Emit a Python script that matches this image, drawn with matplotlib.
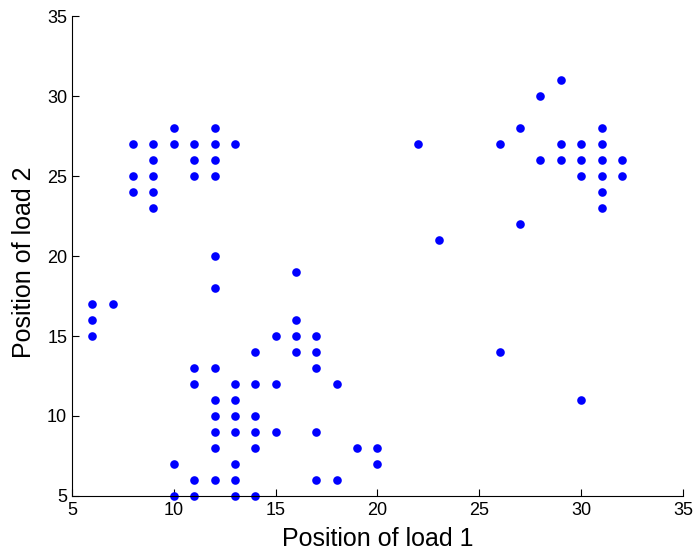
import matplotlib
matplotlib.use("Agg")
import matplotlib.pyplot as plt

plt.rcParams['font.family'] = ['Liberation Sans', 'DejaVu Sans']

load1 = [8, 8, 8,
         9, 9, 9, 9, 9,
         10, 10,
         11, 11, 11,
         12, 12, 12, 12,
         13,
         6, 6, 6, 7,
         12, 12,
         16, 16, 16, 16,
         15, 14,
         17, 17, 17,
         11, 12,
         11, 13, 14, 15, 18,
         12, 13,
         12, 13, 14,
         12, 13, 14, 15, 17,
         12, 14, 19, 20,
         10, 13, 20,
         11, 12, 13, 17, 18,
         10, 11, 13, 14,
         29, 28, 27, 31, 22, 26, 29, 30, 31,
         28, 29, 30, 31, 32,
         30, 31, 32, 31, 31, 27, 23,
         26, 30]
load2 = [27, 25, 24,
         27, 26, 25, 24, 23,
         28, 27,
         27, 26, 25,
         28, 27, 26, 25,
         27,
         17, 16, 15, 17,
         20, 18,
         19, 16, 15, 14,
         15, 14,
         15, 14, 13,
         13, 13,
         12, 12, 12, 12, 12,
         11, 11,
         10, 10, 10,
         9, 9, 9, 9, 9,
         8, 8, 8, 8,
         7, 7, 7,
         6, 6, 6, 6, 6,
         5, 5, 5, 5,
         31, 30, 28, 28, 27, 27, 27, 27, 27,
         26, 26, 26, 26, 26,
         25, 25, 25, 24, 23, 22, 21,
         14, 11]

xticks = [5, 10, 15, 20, 25, 30, 35]
yticks = [5, 10, 15, 20, 25, 30, 35]

fig = plt.figure(figsize=(6.95, 5.53), dpi=100)
ax = fig.add_axes([0.1036, 0.1031, 0.8791, 0.8679])
ax.plot(load1, load2, 'o', color='#0000ff', markersize=6.2, markeredgewidth=0,
        clip_on=False)
ax.set_xlim(5, 35)
ax.set_ylim(5, 35)
ax.set_xticks(xticks)
ax.set_yticks(yticks)
ax.tick_params(direction='in', labelsize=13, length=5, width=0.8)
ax.tick_params(axis='x', pad=4.5)
ax.tick_params(axis='y', pad=3.5)
for s in ['top', 'right']:
    ax.spines[s].set_visible(False)
for s in ['left', 'bottom']:
    ax.spines[s].set_linewidth(0.8)
ax.set_xlabel('Position of load 1', fontsize=18)
ax.set_ylabel('Position of load 2', fontsize=18)
ax.xaxis.set_label_coords(378 / 695, 1 - 539 / 553, transform=fig.transFigure)
ax.yaxis.set_label_coords(24 / 695, 1 - 262 / 553, transform=fig.transFigure)
ax.xaxis.label.set_va('center')
ax.yaxis.label.set_va('center')
fig.savefig('out.png', dpi=100)
